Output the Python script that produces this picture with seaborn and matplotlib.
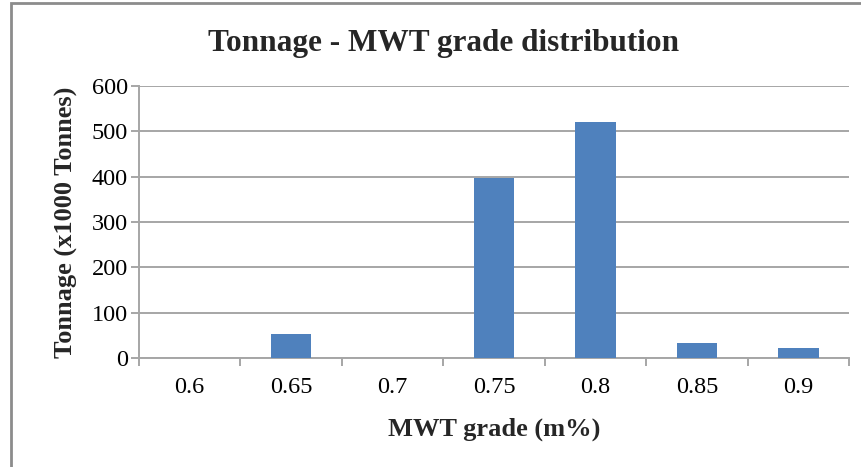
import matplotlib
matplotlib.use("Agg")
import matplotlib.pyplot as plt
from matplotlib.patches import Rectangle
import seaborn as sns
import pandas as pd

grades = ["0.6", "0.65", "0.7", "0.75", "0.8", "0.85", "0.9"]
tonnage = [0, 53, 0, 397, 521, 32, 21]

sns.set_theme(style="white")
plt.rcParams["font.family"] = ["Liberation Serif", "DejaVu Serif"]

df = pd.DataFrame({"grade": grades, "tonnage": tonnage})

fig = plt.figure(figsize=(8.62, 4.67), dpi=100)
ax = fig.add_axes([139 / 862, 1 - 358 / 467, (849 - 139) / 862, (358 - 86) / 467])

sns.barplot(data=df, x="grade", y="tonnage", order=grades, color="#4F81BD",
            saturation=1, width=0.4, linewidth=0, ax=ax, zorder=3)

grid_c = "#A6A6A6"
ax.set_ylim(0, 600)
ax.set_xlim(-0.5, len(grades) - 0.5)
ax.set_yticks(range(0, 601, 100))
ax.yaxis.grid(True, color=grid_c, linewidth=1.4, zorder=0)
ax.set_axisbelow(True)

for side in ["top", "right"]:
    ax.spines[side].set_visible(False)
for side in ["left", "bottom"]:
    ax.spines[side].set_color(grid_c)
    ax.spines[side].set_linewidth(1.4)

# category boundaries carry the x tick marks, labels sit at bar centres
ax.set_xticks([i - 0.5 for i in range(len(grades) + 1)], minor=True)
ax.tick_params(axis="x", which="minor", length=6, width=1.4, color=grid_c, bottom=True)
ax.tick_params(axis="x", which="major", length=0, pad=14, labelsize=17.5, colors="black")
ax.tick_params(axis="y", which="major", length=6, width=1.4, color=grid_c, left=True,
               labelsize=17.5, pad=2, labelcolor="black")

ax.set_xlabel("MWT grade (m%)", fontsize=19, fontweight="bold", labelpad=14)
ax.set_ylabel("Tonnage (x1000 Tonnes)", fontsize=19, fontweight="bold", labelpad=10)
fig.text(444 / 862, 1 - 44 / 467, "Tonnage - MWT grade distribution",
         ha="center", va="center", fontsize=22.5, fontweight="bold")

# outer chart frame
fig.patches.append(Rectangle((11 / 862, -0.1), 1.2, 1 - 3 / 467 + 0.1,
                             transform=fig.transFigure, fill=False,
                             edgecolor="#8C8C8C", linewidth=2))

fig.savefig("out.png", dpi=100)
